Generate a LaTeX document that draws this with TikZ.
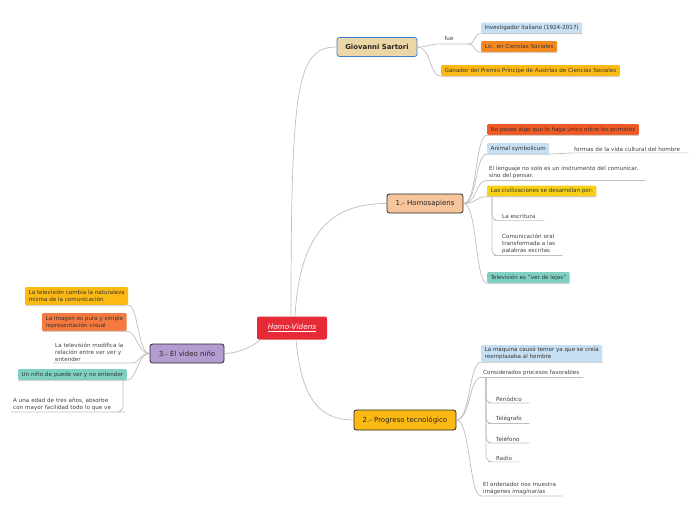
\documentclass[tikz,border=0pt]{standalone}
\usepackage{fontspec}
\setmainfont{DejaVu Sans}
\definecolor{hvred}{HTML}{E62A36}
\definecolor{tan}{HTML}{EDD6A5}
\definecolor{gsborder}{HTML}{3A7FD5}
\definecolor{lblue}{HTML}{C7DFF2}
\definecolor{orng}{HTML}{F7881F}
\definecolor{gold}{HTML}{FDB913}
\definecolor{redorg}{HTML}{F15A24}
\definecolor{yell}{HTML}{F8D017}
\definecolor{teal}{HTML}{7DD0C2}
\definecolor{peach}{HTML}{F6C59B}
\definecolor{purp}{HTML}{B29CD0}
\definecolor{salmon}{HTML}{F47A40}
\definecolor{conncol}{HTML}{BDBDBD}
\begin{document}
\begin{tikzpicture}[x=1pt,y=-1pt,
  conn/.style={draw=conncol, line width=0.7pt},
  leaf/.style={anchor=west, rounded corners=1.2pt, inner xsep=3.5pt, inner ysep=1pt,
    minimum height=11pt, font=\fontsize{5.6}{7}\selectfont, text=black!80, align=left},
  txt/.style={anchor=west, inner xsep=2pt, inner ysep=1.5pt,
    font=\fontsize{5.6}{7}\selectfont, text=black!75, align=left},
  mainbox/.style={rounded corners=2.5pt, draw=black!85, line width=0.8pt,
    font=\fontsize{7}{8}\selectfont, minimum height=19pt, inner xsep=6pt, text=black!85}
]
\useasboundingbox (0,0) rectangle (696,520);

% central
\node[fill=hvred, rounded corners=2pt, minimum width=70pt, minimum height=23pt,
  text=white, font=\fontsize{7.3}{8}\selectfont] (hv) at (292,328) {\underline{\textit{Homo-Videns}}};

% Sartori
\node[mainbox, draw=gsborder, fill=tan, minimum width=80pt, font=\bfseries\fontsize{6.9}{8}\selectfont] (gs) at (377,47) {Giovanni Sartori};
\coordinate (fa) at (440,44);
\coordinate (fb) at (468,44);
\node[font=\fontsize{5.6}{6}\selectfont, text=black!75] (fue) at (449,38) {fue};
\node[leaf, fill=lblue] (in) at (481,28) {Investigador italiano (1924-2017)};
\node[leaf, fill=orng] (li) at (481,46.5) {Lic. en Ciencias Sociales};
\node[leaf, fill=gold] (ga) at (441,70.5) {Ganador del Premio Príncipe de Austrias de Ciencias Sociales};

% Homosapiens
\node[mainbox, fill=peach, minimum width=76pt] (hs) at (425,203.5) {1.- Homosapiens};
\node[leaf, fill=redorg] (np) at (487,129.5) {No posee algo que lo haga único entre los primates};
\node[leaf, fill=lblue] (as) at (487,148.5) {Animal symbolicum};
\node[txt, text width=112pt] (fo) at (572,149) {formas de la vida cultural del hombre};
\node[txt, text width=154pt] (el) at (487,172.5) {El lenguaje no solo es un instrumento del comunicar,\\ sino del pensar.};
\node[leaf, fill=yell] (lc) at (487,191) {Las civilizaciones se desarrollan por:};
\node[txt, text width=40pt] (le) at (500,216.5) {La escritura};
\node[txt, text width=58pt] (co) at (500,244) {Comunicación oral\\ transformada a las\\ palabras escritas};
\node[leaf, fill=teal] (tv) at (487,277.5) {Televisión es "ver de lejos"};

% Progreso
\node[mainbox, fill=gold, minimum width=102pt, minimum height=20pt] (pt) at (405,420) {2.- Progreso tecnológico};
\node[leaf, fill=lblue, minimum height=17pt] (lm) at (481,353.5) {La máquina causó temor ya que se creía\\ reemplazaba al hombre};
\node[txt, text width=98pt] (cp) at (481,373) {Considerados procesos favorables};
\node[txt, text width=31pt] (pe) at (494,399) {Periódico};
\node[txt, text width=31pt] (tg) at (494,419) {Telégrafo};
\node[txt, text width=31pt] (tf) at (494,439) {Teléfono};
\node[txt, text width=21pt] (ra) at (494,458) {Radio};
\node[txt, text width=77pt] (eo) at (481,488) {El ordenador nos muestra\\ imágenes \textit{imaginarias}};

% Video niño
\node[mainbox, fill=purp, minimum width=74pt] (vn) at (187,353.5) {3.- El video niño};
\node[leaf, fill=gold, minimum height=18pt] (tc) at (25,296) {La televisión cambia la naturaleza\\ misma de la comunicación};
\node[leaf, fill=salmon, minimum height=18pt] (ip) at (42,322) {La imagen es pura y simple\\ representación visual};
\node[txt, text width=74pt] (tm) at (53,352) {La televisión modifica la\\ relación entre ver ver y\\ entender};
\node[leaf, fill=teal] (un) at (18,374.5) {Un niño de puede ver y no entender};
\node[txt, text width=104pt] (ae) at (11,404) {A una edad de tres años, absorbe\\ con mayor facilidad todo lo que ve};

% connectors from center
\draw[conn] ([xshift=-1pt]hv.north) .. controls +(0,-230) and +(-40,0) .. (gs.west);
\draw[conn] ([xshift=3pt]hv.north) .. controls +(5,-90) and +(-50,0) .. (hs.west);
\draw[conn] ([xshift=4pt]hv.south) .. controls +(5,50) and +(-40,0) .. (pt.west);
\draw[conn] ([xshift=4pt]hv.south west) .. controls +(-10,8) and +(12,0) .. (vn.east);

% Sartori
\draw[conn] (gs.east) .. controls +(12,0) and +(-12,0) .. (fa) -- (fb);
\draw[conn] (fb) .. controls +(8,0) and +(-8,0) .. (in.south west) -- (in.south east);
\draw[conn] (fb) .. controls +(8,0) and +(-8,0) .. (li.south west) -- (li.south east);
\draw[conn] (gs.east) .. controls +(14,0) and +(-12,0) .. (ga.south west) -- (ga.south east);

% Homosapiens
\foreach \c in {np,as,el,lc,tv}{
  \draw[conn] (hs.east) .. controls +(14,0) and +(-12,0) .. (\c.south west) -- (\c.south east);
}
\draw[conn] (as.south east) -- (fo.south west) -- (fo.south east);
\coordinate (lcv) at ([xshift=5pt]lc.south west);
\foreach \c in {le,co}{
  \draw[conn, rounded corners=6pt] (lcv) |- (\c.south west) -- (\c.south east);
}

% Progreso
\foreach \c in {lm,cp,eo}{
  \draw[conn] (pt.east) .. controls +(14,0) and +(-12,0) .. (\c.south west) -- (\c.south east);
}
\coordinate (cpv) at ([xshift=5pt]cp.south west);
\foreach \c in {pe,tg,tf,ra}{
  \draw[conn, rounded corners=6pt] (cpv) |- (\c.south west) -- (\c.south east);
}

% Video niño
\foreach \c in {tc,ip,tm,un}{
  \draw[conn] (vn.west) .. controls +(-12,0) and +(10,0) .. (\c.south east) -- (\c.south west);
}
\coordinate (unv) at ([xshift=-4pt]un.south east);
\draw[conn, rounded corners=6pt] (unv) |- (ae.south east) -- (ae.south west);
\end{tikzpicture}
\end{document}
